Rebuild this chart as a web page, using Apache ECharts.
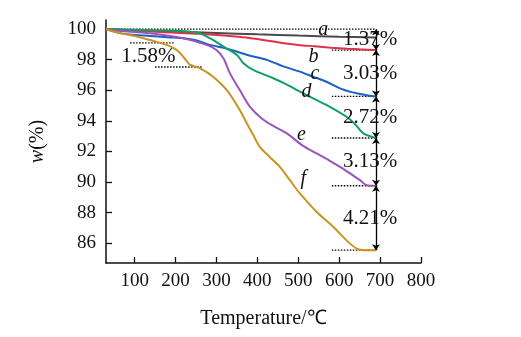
<!DOCTYPE html>
<html>
<head>
<meta charset="utf-8">
<script src="https://cdn.jsdelivr.net/npm/echarts@6/dist/echarts.min.js"></script>
<style>
html,body{margin:0;padding:0;background:#fff;}
#chart{width:521px;height:337px;}
</style>
</head>
<body>
<div id="chart"></div>
<script>
// ---- data ----
var xTicks = [100, 200, 300, 400, 500, 600, 700, 800];
var yTicks = [86, 88, 90, 92, 94, 96, 98, 100];

var tempsA = [30, 100, 200, 300, 400, 500, 600, 690];
var valuesA = [100, 99.93, 99.84, 99.75, 99.66, 99.58, 99.51, 99.45];

var tempsB = [30, 60, 100, 150, 200, 250, 300, 340, 380, 430, 460, 500, 540, 580, 620, 650, 690];
var valuesB = [100, 99.96, 99.9, 99.83, 99.77, 99.7, 99.62, 99.53, 99.42, 99.23, 99.1, 98.97, 98.88, 98.79, 98.72, 98.68, 98.63];

var tempsC = [30, 64, 100, 137, 180, 219, 250, 284, 320, 341, 380, 423, 460, 504, 540, 569, 602, 630, 651, 670, 690];
var valuesC = [100, 99.74, 99.62, 99.56, 99.47, 99.41, 99.28, 98.97, 98.76, 98.6, 98.28, 97.99, 97.6, 97.22, 96.85, 96.56, 96.13, 95.88, 95.76, 95.66, 95.6];

var tempsD = [30, 100, 178, 252, 284, 317, 350, 366, 390, 439, 470, 504, 540, 569, 618, 640, 659, 680, 690];
var valuesD = [100, 99.96, 99.91, 99.78, 99.41, 98.86, 98.31, 97.77, 97.33, 96.79, 96.4, 95.91, 95.42, 95.04, 94.27, 93.75, 93.18, 92.96, 92.88];

var tempsE = [30, 60, 137, 219, 276, 300, 317, 333, 357, 382, 414, 440, 472, 510, 545, 575, 602, 630, 651, 667, 690];
var valuesE = [100, 99.9, 99.74, 99.41, 98.97, 98.64, 98.1, 97.11, 96.02, 94.92, 94.09, 93.65, 93.18, 92.4, 91.87, 91.42, 90.99, 90.5, 90.12, 89.79, 89.75];

var tempsF = [30, 64, 100, 121, 150, 178, 200, 211, 225, 235, 260, 292, 325, 357, 375, 390, 406, 430, 455, 480, 504, 545, 586, 618, 643, 660, 690];
var valuesF = [100, 99.74, 99.55, 99.41, 99.2, 98.97, 98.7, 98.43, 98.0, 97.68, 97.44, 96.89, 96.02, 94.71, 93.8, 93.07, 92.3, 91.64, 90.99, 90.1, 89.25, 88.04, 87.06, 86.18, 85.64, 85.54, 85.54];

var curveNames = ['a', 'b', 'c', 'd', 'e', 'f'];
var curveColors = ['#4a4a4a', '#e0304a', '#1a5fc4', '#10a060', '#9a55bd', '#c8951e'];

// mass-loss annotation (right side)
var lossTemp = 690;
var lossLevels = [100, 98.63, 95.60, 92.88, 89.75, 85.54];
var lossLabels = ['1.37%', '3.03%', '2.72%', '3.13%', '4.21%'];
var levelLineStart = [30, 582, 582, 582, 582, 582];

// 1.58% annotation (left side)
var leftLevels = [99.10, 97.52];
var leftStart = [89, 150];
var leftEnd = [195, 264];
var leftLabel = '1.58%';
var leftLabelPos = [148, 98.2];

// curve letter label anchors (data coords)
var letterT = [561, 537, 541, 520, 508, 512];
var letterW = [99.95, 98.2, 97.11, 95.91, 93.07, 90.23];

// ---- build chart ----
function zip(xs, ys) { return xs.map(function (x, i) { return [x, ys[i]]; }); }
var allT = [tempsA, tempsB, tempsC, tempsD, tempsE, tempsF];
var allV = [valuesA, valuesB, valuesC, valuesD, valuesE, valuesF];
var serif = 'Liberation Serif';
var textColor = '#111';
var series = [];

// dotted level lines
lossLevels.forEach(function (lv, i) {
  series.push({
    type: 'line', silent: true, symbol: 'none', z: 1,
    lineStyle: { color: '#000', width: 1.4, type: [1.5, 1.5] },
    data: [[levelLineStart[i], lv], [lossTemp, lv]]
  });
});
leftLevels.forEach(function (lv, i) {
  series.push({
    type: 'line', silent: true, symbol: 'none', z: 1,
    lineStyle: { color: '#000', width: 1.4, type: [1.5, 1.5] },
    data: [[leftStart[i], lv], [leftEnd[i], lv]]
  });
});

// curves
allT.forEach(function (ts, i) {
  series.push({
    type: 'line', name: curveNames[i], symbol: 'none', smooth: 0.3, z: 3,
    lineStyle: { color: curveColors[i], width: 2 },
    data: zip(ts, allV[i])
  });
});

// vertical arrows
var arrowData = [];
for (var k = 0; k < lossLevels.length - 1; k++) {
  arrowData.push({ coords: [[lossTemp, lossLevels[k]], [lossTemp, lossLevels[k + 1]]] });
}
series.push({
  type: 'lines', coordinateSystem: 'cartesian2d', z: 5, silent: true,
  symbol: ['arrow', 'arrow'], symbolSize: 6,
  lineStyle: { color: '#000', width: 1.3, opacity: 1 },
  data: arrowData
});

var chart = echarts.init(document.getElementById('chart'), null, { renderer: 'canvas' });
chart.setOption({
  animation: false,
  backgroundColor: '#fff',
  grid: { left: 106, right: 100, top: 20, bottom: 74, containLabel: false },
  xAxis: {
    type: 'value', min: 30, max: 800,
    name: 'Temperature/℃', nameLocation: 'middle', nameGap: 46,
    nameTextStyle: { fontFamily: serif, fontSize: 20, color: textColor },
    axisLine: { show: true, lineStyle: { color: '#111', width: 1.5 } },
    axisTick: { show: true, inside: true, length: 6, customValues: xTicks, lineStyle: { color: '#111', width: 1.3 } },
    axisLabel: { customValues: xTicks, fontFamily: serif, fontSize: 19, color: textColor, margin: 9 },
    splitLine: { show: false }
  },
  yAxis: {
    type: 'value', min: 84.7, max: 100.6,
    name: '{i|w}(%)', nameLocation: 'middle', nameGap: 58, nameRotate: 90,
    nameTextStyle: { fontFamily: serif, fontSize: 20, color: textColor,
      rich: { i: { fontFamily: serif, fontStyle: 'italic', fontSize: 20, color: textColor } } },
    axisLine: { show: true, lineStyle: { color: '#111', width: 1.5 } },
    axisTick: { show: true, inside: true, length: 6, customValues: yTicks, lineStyle: { color: '#111', width: 1.3 } },
    axisLabel: { customValues: yTicks, fontFamily: serif, fontSize: 19, color: textColor, margin: 10 },
    splitLine: { show: false }
  },
  series: series
});

// annotation texts placed through the chart's own scales
var graphics = [];
function addText(t, w, str, italic, size, dx) {
  var p = chart.convertToPixel({ gridIndex: 0 }, [t, w]);
  graphics.push({
    type: 'text', x: p[0] + (dx || 0), y: p[1], z: 100, silent: true,
    style: { text: str, fill: textColor, font: (italic ? 'italic ' : '') + size + 'px "' + serif + '"',
      textAlign: 'center', textVerticalAlign: 'middle' }
  });
}
lossLabels.forEach(function (t, k) {
  addText(lossTemp, (lossLevels[k] + lossLevels[k + 1]) / 2, t, false, 21, -6);
});
addText(leftLabelPos[0], leftLabelPos[1], leftLabel, false, 21, -6);
curveNames.forEach(function (n, i) { addText(letterT[i], letterW[i], n, true, 20, 0); });
chart.setOption({ graphic: graphics });
</script>
</body>
</html>
